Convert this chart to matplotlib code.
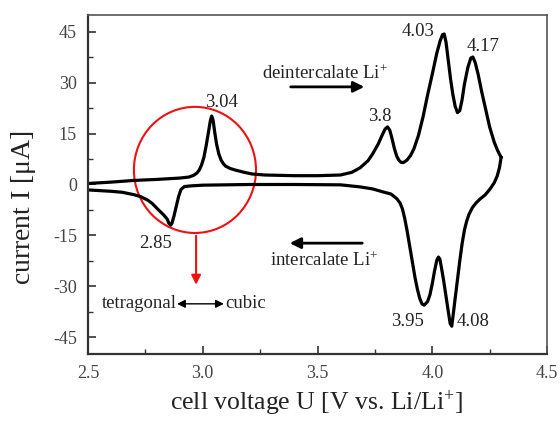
import matplotlib
matplotlib.use("Agg")
import matplotlib.pyplot as plt
from matplotlib.patches import Ellipse

plt.rcParams['font.family'] = ['Liberation Serif', 'DejaVu Serif']
plt.rcParams['mathtext.fontset'] = 'custom'
plt.rcParams['mathtext.rm'] = 'Liberation Serif'
plt.rcParams['mathtext.it'] = 'Liberation Serif:italic'
plt.rcParams['axes.unicode_minus'] = False

# Anodic (upper) branch: voltage [V], current [uA]
V_ox = [2.50, 2.60, 2.70, 2.80, 2.90, 2.94, 2.96, 2.975, 2.985, 2.995, 3.005, 3.015,
        3.025, 3.033, 3.039, 3.045, 3.052, 3.06, 3.07, 3.08, 3.09, 3.10, 3.12, 3.14,
        3.18, 3.215, 3.27, 3.40, 3.50, 3.60, 3.65, 3.685, 3.72, 3.74, 3.765, 3.78,
        3.795, 3.805, 3.815, 3.825, 3.835, 3.845, 3.855, 3.865, 3.875, 3.89, 3.905,
        3.92, 3.94, 3.96, 3.98, 4.00, 4.02, 4.035, 4.045, 4.052, 4.06, 4.07, 4.08,
        4.09, 4.10, 4.11, 4.12, 4.13, 4.14, 4.155, 4.168, 4.177, 4.187, 4.20,
        4.215, 4.23, 4.25, 4.27, 4.285, 4.30]
I_ox = [0.3, 0.7, 1.2, 1.5, 1.9, 2.2, 2.7, 3.4, 4.3, 5.8, 8.0, 11.5,
        15.5, 18.8, 20.2, 19.0, 15.5, 12.0, 9.0, 7.2, 6.1, 5.4, 4.7, 4.3,
        3.6, 3.1, 2.8, 2.6, 2.6, 2.8, 3.6, 4.9, 7.0, 9.0, 12.0, 14.3,
        16.4, 17.0, 16.0, 13.5, 10.6, 8.4, 7.1, 6.5, 6.5, 7.2, 8.5,
        10.5, 14.5, 20.0, 26.5, 32.5, 38.8, 42.5, 44.2, 44.4, 42.0, 36.5, 31.0,
        26.5, 23.0, 21.2, 21.8, 25.0, 29.5, 34.5, 37.3, 37.6, 36.0, 32.5,
        27.5, 23.0, 17.0, 12.5, 10.0, 8.0]

# Cathodic (lower) branch
V_red = [4.30, 4.293, 4.283, 4.27, 4.25, 4.23, 4.208, 4.19, 4.175, 4.16, 4.15,
         4.14, 4.13, 4.12, 4.11, 4.10, 4.092, 4.085, 4.078, 4.07, 4.06, 4.05,
         4.04, 4.033, 4.027, 4.02, 4.01, 4.00, 3.99, 3.98, 3.965, 3.955, 3.945,
         3.935, 3.925, 3.91, 3.90, 3.89, 3.88, 3.87, 3.86, 3.846, 3.82, 3.786,
         3.74, 3.685, 3.60, 3.40, 3.20, 3.00, 2.95, 2.92, 2.905, 2.895, 2.885,
         2.875, 2.866, 2.86, 2.853, 2.845, 2.83, 2.815, 2.80, 2.78, 2.76, 2.73,
         2.70, 2.65, 2.60, 2.50]
I_red = [8.0, 5.0, 2.5, 0.5, -1.5, -3.1, -4.3, -5.5, -6.8, -8.8, -10.8,
         -13.5, -17.5, -22.5, -28.0, -33.5, -38.0, -41.8, -41.0, -37.5, -33.0, -28.5,
         -24.5, -22.0, -21.4, -22.3, -25.5, -29.3, -32.5, -34.5, -35.6, -35.2, -33.5,
         -30.8, -27.5, -21.5, -17.5, -13.5, -10.0, -7.2, -5.5, -4.2, -2.8, -2.2,
         -1.3, -0.7, -0.1, 0.0, 0.0, -0.2, -0.4, -0.6, -1.5, -3.5, -6.3,
         -9.2, -11.4, -12.0, -11.5, -10.2, -9.0, -8.0, -7.0, -5.6, -4.6, -3.6,
         -3.0, -2.3, -2.0, -1.6]

x_ticks = [2.5, 3.0, 3.5, 4.0, 4.5]
x_ticklabels = ['2.5', '3.0', '3.5', '4.0', '4.5']
y_ticks = [-45, -30, -15, 0, 15, 30, 45]
y_ticklabels = ['-45', '-30', '-15', '0', '15', '30', '45']

peak_labels = ['3.04', '2.85', '3.8', '4.03', '4.17', '3.95', '4.08']
peak_label_pos = [(3.08, 24.3), (2.796, -17.3), (3.772, 20.2), (3.938, 45.0),
                  (4.221, 40.6), (3.894, -40.3), (4.178, -40.3)]

fig = plt.figure(figsize=(5.6, 4.23), dpi=100)
ax = fig.add_axes([88/560, 1-354/423, (547-88)/560, (354-15)/423])

ax.plot(V_ox, I_ox, color='black', lw=2.3, solid_joinstyle='round')
ax.plot(V_red, I_red, color='black', lw=2.3, solid_joinstyle='round')

ax.set_xlim(2.5, 4.5)
ax.set_ylim(-50, 50)
ax.set_xticks(x_ticks)
ax.set_xticklabels(x_ticklabels)
ax.set_yticks(y_ticks)
ax.set_yticklabels(y_ticklabels)
ax.set_xticks([2.75, 3.25, 3.75, 4.25], minor=True)
ax.set_yticks([-37.5, -22.5, -7.5, 7.5, 22.5, 37.5], minor=True)
ax.tick_params(which='major', direction='in', length=6, width=1.2, colors='#333333',
               labelsize=13, labelcolor='#444444', top=False, right=False, pad=8)
ax.tick_params(which='minor', direction='in', length=3.5, width=1.0, colors='#333333',
               top=False, right=False)
for s in ['left', 'bottom']:
    ax.spines[s].set_linewidth(1.6)
    ax.spines[s].set_color('#333333')
for s in ['top', 'right']:
    ax.spines[s].set_linewidth(1.2)
    ax.spines[s].set_color('#555555')

fs = 13.5
for lab, (x, y) in zip(peak_labels, peak_label_pos):
    ax.text(x, y, lab, fontsize=fs, ha='center', va='center', color='#222222')

ax.text(3.258, 32.6, r'deintercalate Li$^{+}$', fontsize=fs, ha='left', va='center', color='#222222')
ax.annotate('', xy=(3.716, 28.8), xytext=(3.371, 28.8),
            arrowprops=dict(arrowstyle='-|>', color='black', lw=2.0, mutation_scale=16))
ax.text(3.293, -22.6, r'intercalate Li$^{+}$', fontsize=fs, ha='left', va='center', color='#222222')
ax.annotate('', xy=(3.367, -17.3), xytext=(3.707, -17.3),
            arrowprops=dict(arrowstyle='-|>', color='black', lw=2.0, mutation_scale=16))

ax.add_patch(Ellipse((2.966, 4.3), 0.532, 37.2, fill=False, edgecolor='#ee1111', lw=1.5))
ax.annotate('', xy=(2.971, -30.4), xytext=(2.971, -14.3),
            arrowprops=dict(arrowstyle='-|>', color='#ee1111', lw=1.5, mutation_scale=14))

ax.text(2.888, -35.2, 'tetragonal', fontsize=fs, ha='right', va='center', color='#222222')
ax.annotate('', xy=(3.092, -35.2), xytext=(2.888, -35.2),
            arrowprops=dict(arrowstyle='<|-|>', color='black', lw=1.0, mutation_scale=12,
                            shrinkA=0, shrinkB=0))
ax.text(3.097, -35.2, 'cubic', fontsize=fs, ha='left', va='center', color='#222222')

fig.text(24/560, 1-208/423, r'current I [$\mathrm{\mu}$A]', rotation=90, fontsize=20,
         ha='center', va='center', color='#222222')
fig.text(316/560, 1-403/423, r'cell voltage U [V vs. Li/Li$^{+}$]', fontsize=18.5,
         ha='center', va='center', color='#222222')

fig.savefig('out.png', dpi=100)
